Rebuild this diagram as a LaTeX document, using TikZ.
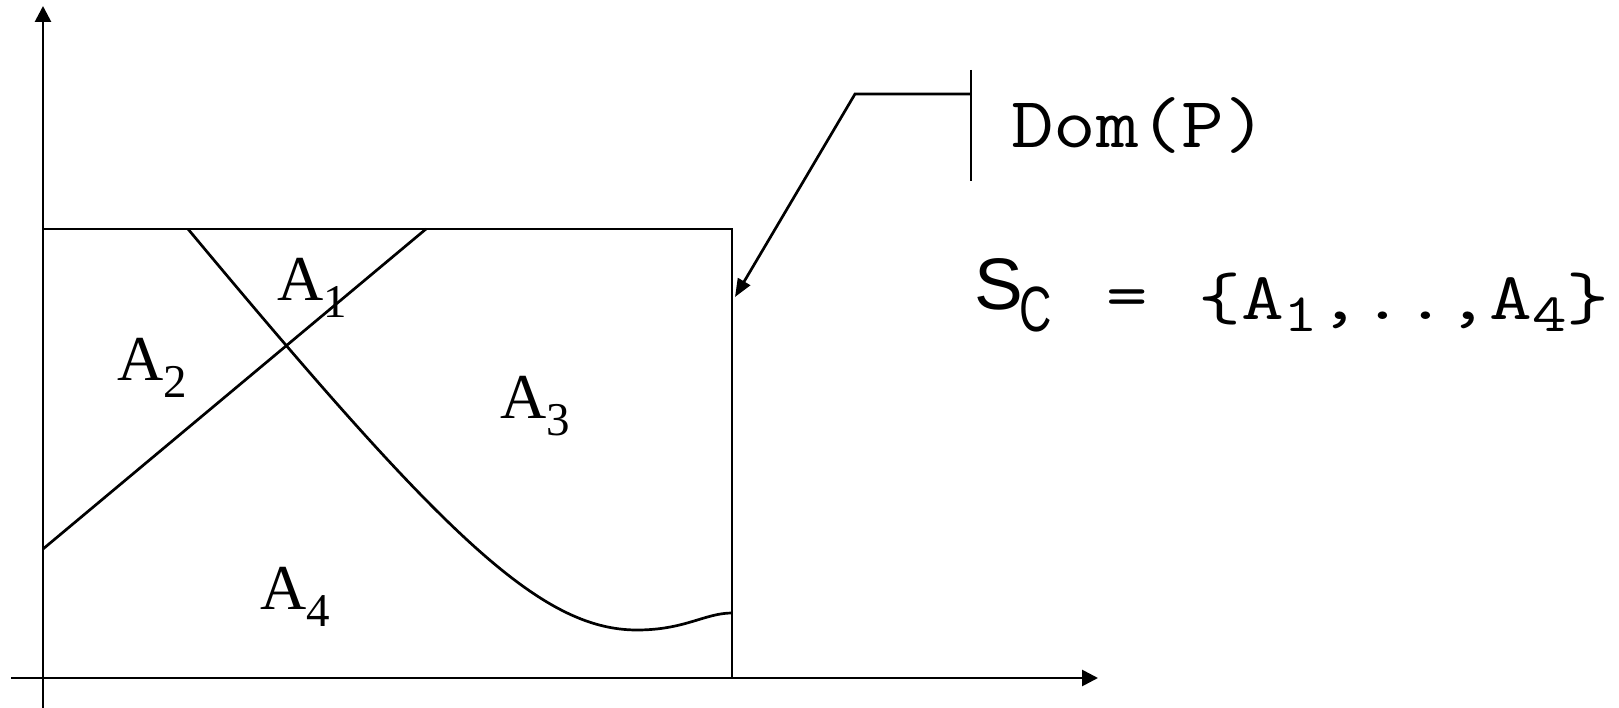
\documentclass[tikz,border=0pt]{standalone}
\usepackage{fontspec}
\usepackage{graphicx}
\newfontfamily\serifA{Liberation Serif}
\newfontfamily\sansA{Liberation Sans}
\usetikzlibrary{arrows.meta}
\newcommand\regionlab[1]{{\serifA\fontsize{64}{70}\selectfont A\raisebox{-17pt}{\fontsize{47}{50}\selectfont #1}}}
\newcommand\monosub[1]{\raisebox{-12pt}{\fontsize{54}{60}\selectfont #1}}
\begin{document}
\begin{tikzpicture}[x=1pt,y=-1pt,line width=2.7pt,
  axis/.style={-{Triangle[length=16pt,width=16pt]}},
  ptr/.style={-{Triangle[length=18pt,width=14pt]}},
  region/.style={anchor=base west,inner sep=0pt},
  mono/.style={anchor=base,inner sep=0pt}]
\useasboundingbox (0,0) rectangle (1619,708);
% axes
\coordinate (ybot) at (43,708);
\coordinate (ytop) at (43,6);
\coordinate (xleft) at (11,678);
\coordinate (xright) at (1098,678);
\draw[axis] (ybot) -- (ytop);
\draw[axis] (xleft) -- (xright);
% domain rectangle
\coordinate (TL) at (43,229);
\coordinate (TR) at (732,229);
\coordinate (BR) at (732,678);
\draw (TL) -- (TR) -- (BR);
% dividing lines
\coordinate (d1) at (43,549);
\coordinate (d2) at (426,229);
\draw (d1) -- (d2);
\coordinate (c0) at (188,229);
\coordinate (c1) at (637,630);
\coordinate (c2) at (732,613);
\draw (c0) .. controls (442,534) and (540,630) .. (c1)
           .. controls (685,630) and (705,613) .. (c2);
% labels
\node[region] (A1) at (276,301) {\regionlab{1}};
\node[region] (A2) at (116,381) {\regionlab{2}};
\node[region] (A3) at (499,418) {\regionlab{3}};
\node[region] (A4) at (259,609) {\regionlab{4}};
% Dom(P) bracket
\coordinate (b0) at (971,70);
\coordinate (b1) at (971,181);
\coordinate (bm) at (971,94);
\coordinate (bk) at (855,94);
\coordinate (tip) at (735,297);
\draw (b0) -- (b1);
\draw[ptr] (bm) -- (bk) -- (tip);
\node[mono] (dom) at (1139,148) {\scalebox{1.15}[1]{\ttfamily\fontsize{72}{80}\selectfont Dom(P)}};
% formula
\node[anchor=base west,inner sep=0pt] (S) at (973,310) {\sansA\fontsize{73}{80}\selectfont S};
\node[anchor=base west,inner sep=0pt] (C) at (1018,332) {\scalebox{0.7}[1]{\sansA\fontsize{64}{70}\selectfont C}};
\node[mono] (eq) at (1127,318) {\scalebox{1.2}[1]{\ttfamily\fontsize{67}{70}\selectfont =}};
\node[mono] (set) at (1404,320) {\scalebox{1.24}[1]{\ttfamily\fontsize{67}{70}\selectfont \{A\monosub{1},..,A\monosub{4}\}}};
\end{tikzpicture}
\end{document}
